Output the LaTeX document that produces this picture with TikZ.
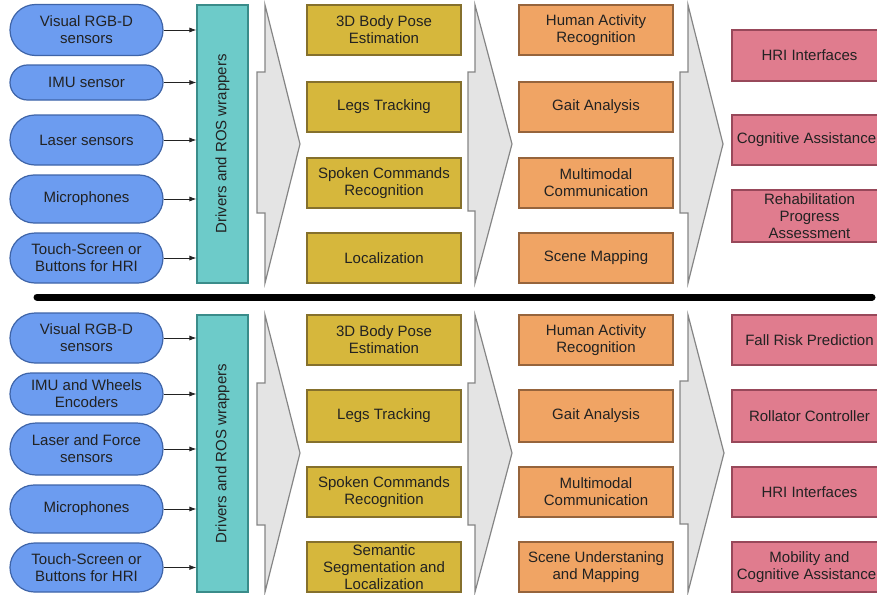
\documentclass[tikz,border=0pt]{standalone}
\usepackage{fontspec}
\setmainfont{Liberation Sans}
\usetikzlibrary{shapes.misc,arrows.meta}
\definecolor{sensorfill}{HTML}{6C9CF0}
\definecolor{sensorline}{HTML}{3E64A8}
\definecolor{drvfill}{HTML}{6DCBC9}
\definecolor{drvline}{HTML}{3A8C8A}
\definecolor{percfill}{HTML}{D6B73C}
\definecolor{percline}{HTML}{85702C}
\definecolor{cogfill}{HTML}{F0A464}
\definecolor{cogline}{HTML}{96643C}
\definecolor{appfill}{HTML}{E07C8E}
\definecolor{appline}{HTML}{98485A}
\definecolor{chevfill}{HTML}{E4E4E4}
\definecolor{chevline}{HTML}{858585}
\definecolor{txt}{HTML}{222222}
\tikzset{
 box/.style={draw,line width=1.2pt,inner sep=0pt,align=center,text=txt,
  font=\fontsize{15}{17}\selectfont},
 sensor/.style={box,rounded rectangle,fill=sensorfill,draw=sensorline,minimum width=153pt},
 driver/.style={box,fill=drvfill,draw=drvline,minimum width=51pt},
 perc/.style={box,fill=percfill,draw=percline,minimum width=154pt,minimum height=50pt},
 cog/.style={box,fill=cogfill,draw=cogline,minimum width=154pt,minimum height=50pt},
 app/.style={box,fill=appfill,draw=appline,minimum width=155pt,minimum height=50pt},
 chev/.style={fill=chevfill,draw=chevline,line width=1.2pt,line join=miter},
 feed/.style={-{Latex[length=7pt,width=5pt]},line width=0.8pt,draw=txt}
}
\begin{document}
\begin{tikzpicture}[x=1pt,y=-1pt]
 \useasboundingbox (0,0) rectangle (877,594);
 \clip (0,0) rectangle (877,594);
 \node[sensor,minimum height=51pt] (s1) at (86.5,30) {Visual RGB-D\\sensors};
 \node[sensor,minimum height=35pt] (s2) at (86.5,82.5) {IMU sensor};
 \node[sensor,minimum height=50pt] (s3) at (86.5,140) {Laser sensors};
 \node[sensor,minimum height=48pt] (s4) at (86.5,199) {Microphones};
 \node[sensor,minimum height=50pt] (s5) at (86.5,258) {Touch-Screen or\\Buttons for HRI};
 \node[driver,minimum height=278pt] (drv1) at (222.5,144) {\rotatebox{90}{Drivers and ROS wrappers}};
 \draw[feed] (s1.east) -- (s1.east -| drv1.west);
 \draw[feed] (s2.east) -- (s2.east -| drv1.west);
 \draw[feed] (s3.east) -- (s3.east -| drv1.west);
 \draw[feed] (s4.east) -- (s4.east -| drv1.west);
 \draw[feed] (s5.east) -- (s5.east -| drv1.west);
 \draw[chev] (265,5) -- (300,144) -- (265,283) -- (265,213) -- (257,213) -- (257,72) -- (265,72) -- cycle;
 \node[perc] (p1) at (384,30) {3D Body Pose\\Estimation};
 \node[perc] (p2) at (384,107) {Legs Tracking};
 \node[perc] (p3) at (384,183) {Spoken Commands\\Recognition};
 \node[perc] (p4) at (384,258) {Localization};
 \draw[chev] (475,5) -- (512,144) -- (475,283) -- (475,211) -- (468,211) -- (468,72) -- (475,72) -- cycle;
 \node[cog] (c1) at (596,30) {Human Activity\\Recognition};
 \node[cog] (c2) at (596,107) {Gait Analysis};
 \node[cog] (c3) at (596,183) {Multimodal\\Communication};
 \node[cog] (c4) at (596,258) {Scene Mapping};
 \draw[chev] (688,5) -- (723,144) -- (688,283) -- (688,213) -- (680,213) -- (680,72) -- (688,72) -- cycle;
 \node[app,minimum height=51pt] (a1) at (809.5,55.5) {HRI Interfaces};
 \node[app] (a2) at (809.5,140) {Cognitive Assistance\kern6pt};
 \node[app,minimum height=52pt] (a3) at (809.5,216) {Rehabilitation\\Progress\\Assessment};
 \draw[line width=7pt,line cap=round] (37,297) -- (872,297);
 \node[sensor,minimum height=50pt] (t1) at (86.5,338) {Visual RGB-D\\sensors};
 \node[sensor,minimum height=42pt] (t2) at (86.5,394) {IMU and Wheels\\Encoders};
 \node[sensor,minimum height=52pt] (t3) at (86.5,449) {Laser and Force\\sensors};
 \node[sensor,minimum height=48pt] (t4) at (86.5,509) {Microphones};
 \node[sensor,minimum height=49pt] (t5) at (86.5,567.5) {Touch-Screen or\\Buttons for HRI};
 \node[driver,minimum height=277pt] (drv2) at (222.5,453.5) {\rotatebox{90}{Drivers and ROS wrappers}};
 \draw[feed] (t1.east) -- (t1.east -| drv2.west);
 \draw[feed] (t2.east) -- (t2.east -| drv2.west);
 \draw[feed] (t3.east) -- (t3.east -| drv2.west);
 \draw[feed] (t4.east) -- (t4.east -| drv2.west);
 \draw[feed] (t5.east) -- (t5.east -| drv2.west);
 \draw[chev] (265,315) -- (300,453) -- (265,592) -- (265,525) -- (257,525) -- (257,383) -- (265,383) -- cycle;
 \node[perc] (q1) at (384,340) {3D Body Pose\\Estimation};
 \node[perc,minimum height=52pt] (q2) at (384,416) {Legs Tracking};
 \node[perc] (q3) at (384,492) {Spoken Commands\\Recognition};
 \node[perc] (q4) at (384,567) {Semantic\\Segmentation and\\Localization};
 \draw[chev] (475,315) -- (512,453) -- (475,592) -- (475,525) -- (468,525) -- (468,383) -- (475,383) -- cycle;
 \node[cog] (d1) at (596,340) {Human Activity\\Recognition};
 \node[cog,minimum height=52pt] (d2) at (596,416) {Gait Analysis};
 \node[cog] (d3) at (596,492) {Multimodal\\Communication};
 \node[cog] (d4) at (596,567) {Scene Understaning\\and Mapping};
 \draw[chev] (688,315) -- (724,453) -- (688,592) -- (688,524) -- (680,524) -- (680,381) -- (688,381) -- cycle;
 \node[app] (b1) at (809.5,340) {Fall Risk Prediction};
 \node[app,minimum height=52pt] (b2) at (809.5,416) {Rollator Controller};
 \node[app] (b3) at (809.5,492) {HRI Interfaces};
 \node[app] (b4) at (809.5,567) {Mobility and\\Cognitive Assistance\kern6pt};
\end{tikzpicture}
\end{document}
